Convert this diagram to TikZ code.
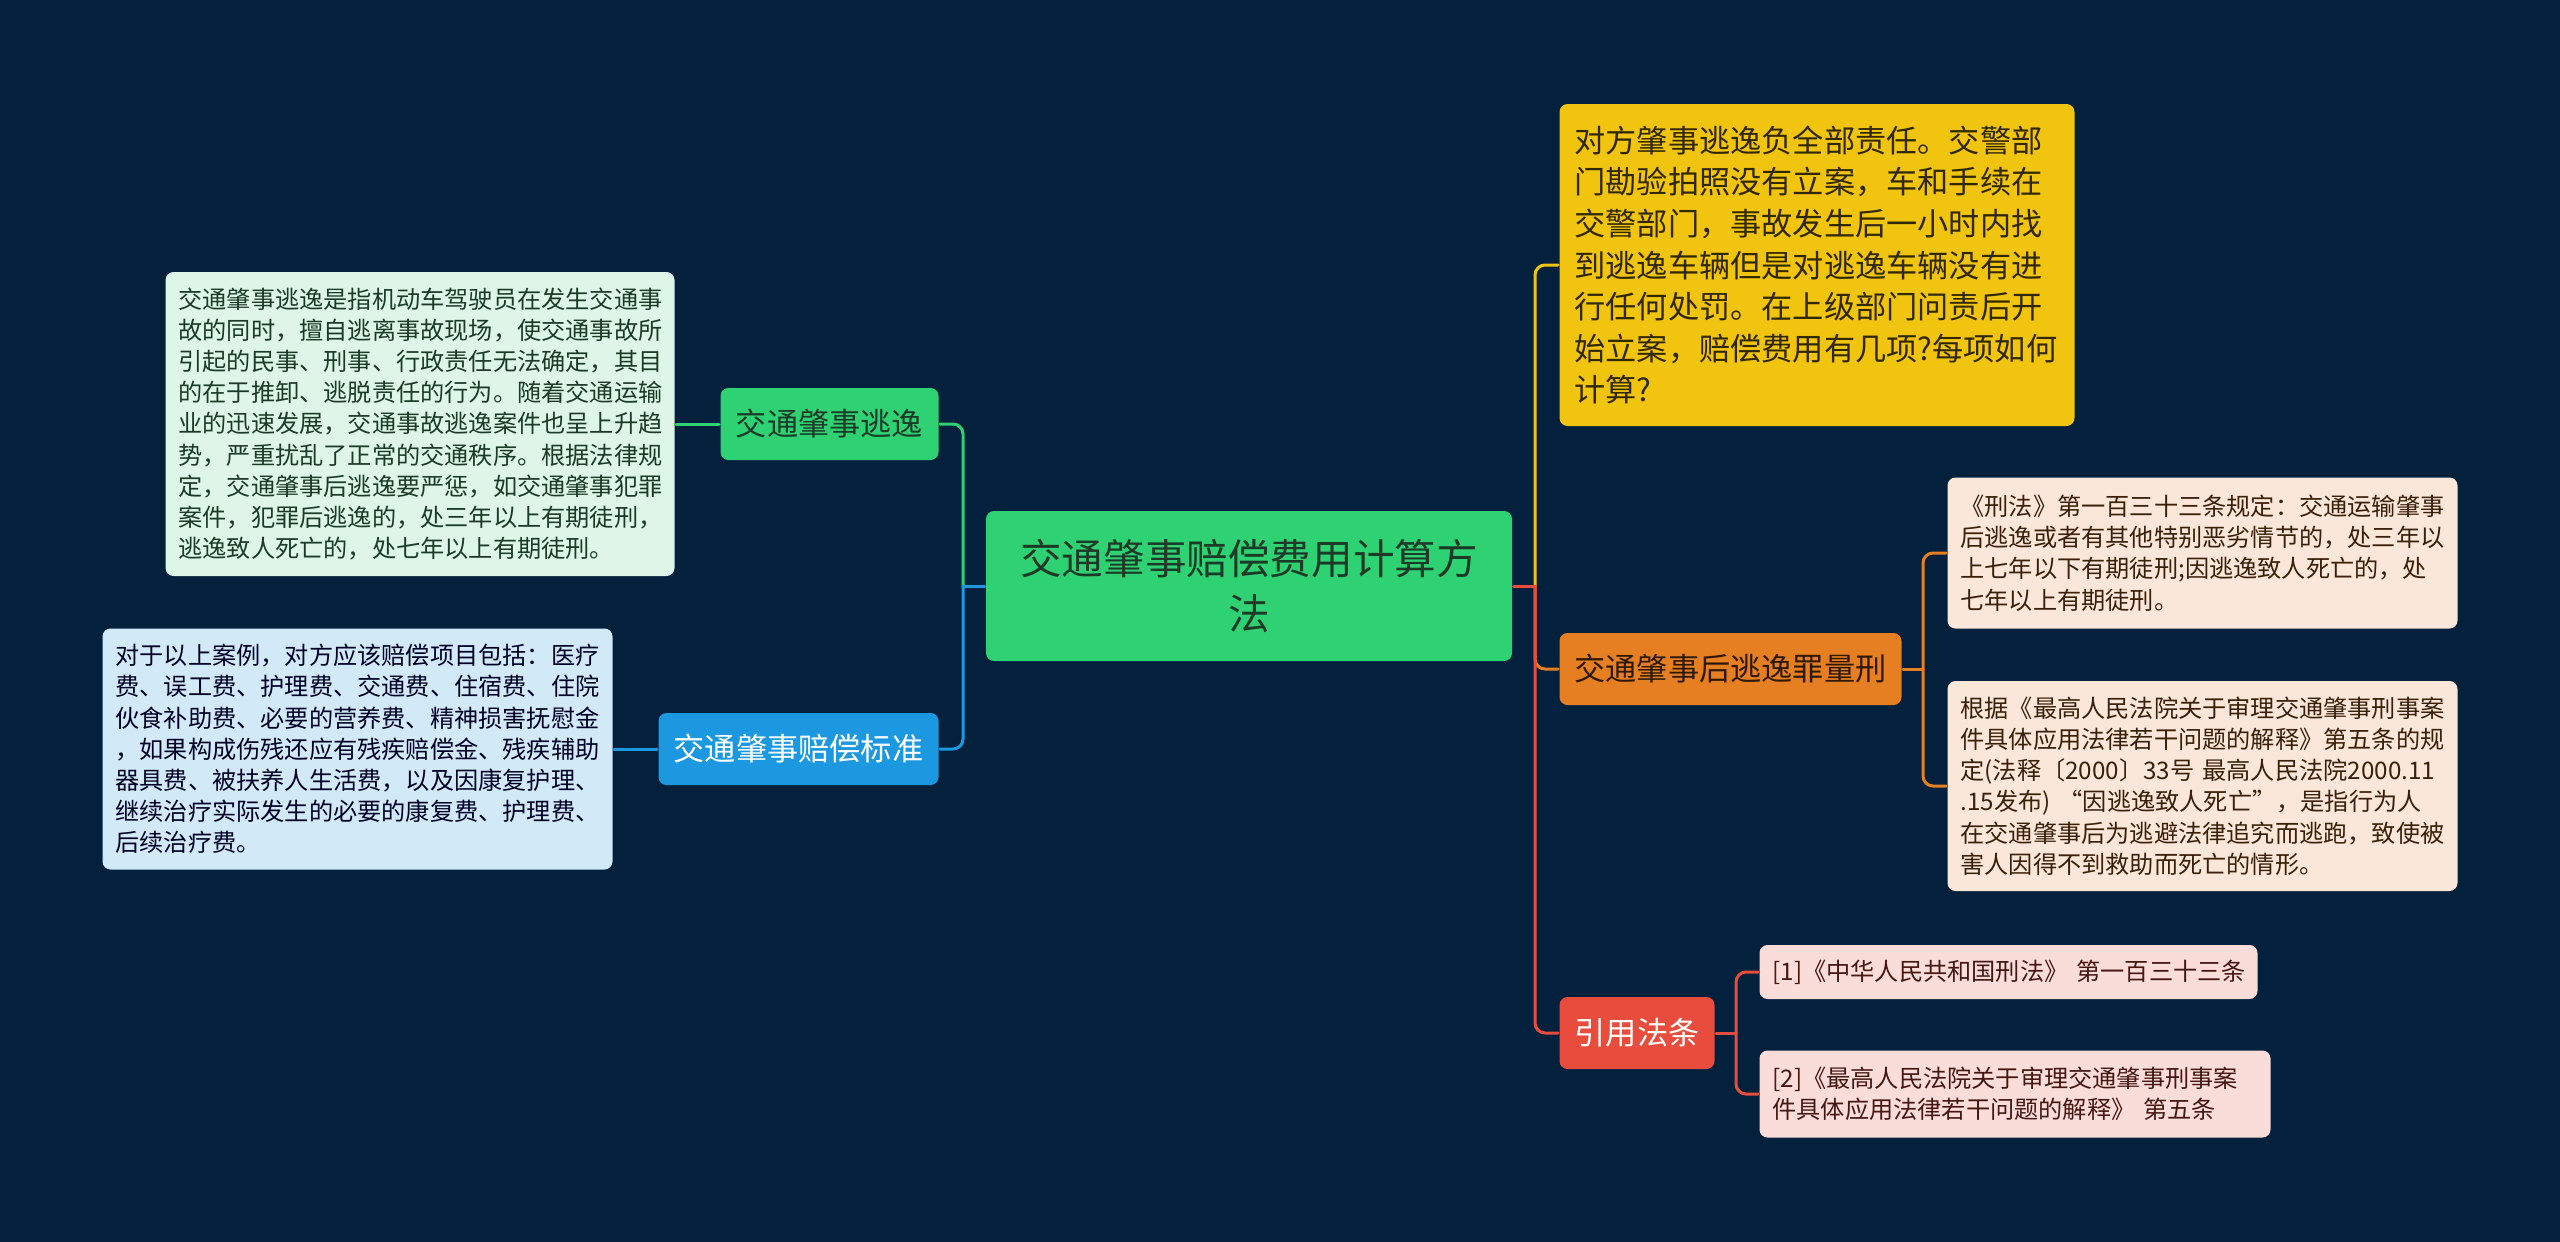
\documentclass[tikz,border=0pt]{standalone}
\usepackage{fontspec}
\setmainfont{Noto Sans CJK SC}
\definecolor{bgnavy}{HTML}{03203C}
\definecolor{rootgreen}{HTML}{2FD273}
\definecolor{mint}{HTML}{DDF6E7}
\definecolor{skyblue}{HTML}{1B98E0}
\definecolor{paleblue}{HTML}{D2EAF7}
\definecolor{sun}{HTML}{F1C40F}
\definecolor{carrot}{HTML}{E67E22}
\definecolor{peach}{HTML}{FAE7D9}
\definecolor{tomato}{HTML}{E74C3C}
\definecolor{blush}{HTML}{FADCD9}
\definecolor{inkgreen}{HTML}{1C3A28}
\begin{document}
\begin{tikzpicture}[x=.5pt,y=-.5pt,line width=1.5pt,line cap=round,line join=round,
  card/.style={rounded corners=4pt,inner ysep=0pt},
  branch/.style={card,align=center,inner xsep=0pt,minimum height=36pt,
    font=\fontsize{15.6}{20}\selectfont},
  leaf/.style={card,align=left,inner xsep=6.5pt,
    font=\fontsize{12.1}{15.6}\selectfont},
  link/.style={rounded corners=5pt}]
  \fill[bgnavy] (0,0) rectangle (2560,1242);
  % centre
  \node[card,fill=rootgreen,text=inkgreen,align=center,minimum width=263pt,
    minimum height=75pt,font=\fontsize{20.8}{27.8}\selectfont] (root) at (1249,586)
    {交通肇事赔偿费用计算方\\法};
  % left side
  \node[branch,fill=rootgreen,text=inkgreen,minimum width=109pt,anchor=east]
    (escape) at (940,424) {交通肇事逃逸};
  \node[branch,fill=skyblue,text=white,minimum width=140pt,anchor=east]
    (standard) at (940,749) {交通肇事赔偿标准};
  \node[leaf,fill=mint,text=inkgreen,text width=241.5pt,minimum height=152pt,
    anchor=east] (escdef) at (676,424)
    {交通肇事逃逸是指机动车驾驶员在发生交通事\\
     故的同时，擅自逃离事故现场，使交通事故所\\
     引起的民事、刑事、行政责任无法确定，其目\\
     的在于推卸、逃脱责任的行为。随着交通运输\\
     业的迅速发展，交通事故逃逸案件也呈上升趋\\
     势，严重扰乱了正常的交通秩序。根据法律规\\
     定，交通肇事后逃逸要严惩，如交通肇事犯罪\\
     案件，犯罪后逃逸的，处三年以上有期徒刑，\\
     逃逸致人死亡的，处七年以上有期徒刑。};
  \node[leaf,fill=paleblue,text=black!85!blue,text width=242pt,minimum height=120.5pt,
    anchor=east] (items) at (614,749)
    {对于以上案例，对方应该赔偿项目包括：医疗\\
     费、误工费、护理费、交通费、住宿费、住院\\
     伙食补助费、必要的营养费、精神损害抚慰金\\
     ，如果构成伤残还应有残疾赔偿金、残疾辅助\\
     器具费、被扶养人生活费，以及因康复护理、\\
     继续治疗实际发生的必要的康复费、护理费、\\
     后续治疗费。};
  % right side
  \node[card,fill=sun,text=black!80!sun,align=left,inner xsep=7.5pt,text width=242.5pt,
    minimum height=161pt,anchor=west,font=\fontsize{15.6}{20.8}\selectfont]
    (question) at (1558,265)
    {对方肇事逃逸负全部责任。交警部\\
     门勘验拍照没有立案，车和手续在\\
     交警部门，事故发生后一小时内找\\
     到逃逸车辆但是对逃逸车辆没有进\\
     行任何处罚。在上级部门问责后开\\
     始立案，赔偿费用有几项?每项如何\\
     计算?};
  \node[branch,fill=carrot,text=black!80!carrot,minimum width=171pt,anchor=west]
    (crime) at (1558,669) {交通肇事后逃逸罪量刑};
  \node[branch,fill=tomato,text=white,minimum width=77.5pt,anchor=west]
    (cite) at (1558,1033) {引用法条};
  \node[leaf,fill=peach,text=black!75!carrot,text width=242pt,minimum height=75.5pt,
    anchor=west] (xingfa) at (1946,553)
    {《刑法》第一百三十三条规定：交通运输肇事\\
     后逃逸或者有其他特别恶劣情节的，处三年以\\
     上七年以下有期徒刑;因逃逸致人死亡的，处\\
     七年以上有期徒刑。};
  \node[leaf,fill=peach,text=black!75!carrot,text width=242pt,minimum height=105pt,
    anchor=west] (jieshi) at (1946,786)
    {根据《最高人民法院关于审理交通肇事刑事案\\
     件具体应用法律若干问题的解释》第五条的规\\
     定(法释〔2000〕33号 最高人民法院2000.11\\
     .15发布) “因逃逸致人死亡”，是指行为人\\
     在交通肇事后为逃避法律追究而逃跑，致使被\\
     害人因得不到救助而死亡的情形。};
  \node[leaf,fill=blush,text=black!70!tomato,text width=236pt,minimum height=27pt,
    anchor=west] (refone) at (1758,972)
    {\mbox{[1]《中华人民共和国刑法》 第一百三十三条}};
  \node[leaf,fill=blush,text=black!70!tomato,text width=242.5pt,minimum height=43.5pt,
    anchor=west] (reftwo) at (1758,1094)
    {[2]《最高人民法院关于审理交通肇事刑事案\\
     件具体应用法律若干问题的解释》 第五条};
  % connectors
  \coordinate (ltrunk) at (963,586);
  \coordinate (rtrunk) at (1535,586);
  \coordinate (otrunk) at (1923,669);
  \coordinate (ctrunk) at (1736,1033);
  \draw[skyblue] (root.west) -- (ltrunk);
  \draw[rootgreen,link] (ltrunk) |- (escape.east);
  \draw[skyblue,link] (ltrunk) |- (standard.east);
  \draw[rootgreen] (escape.west) -- (escdef.east);
  \draw[skyblue] (standard.west) -- (items.east);
  \draw[sun,link] (rtrunk) |- (question.west);
  \draw[carrot,link] (rtrunk) |- (crime.west);
  \draw[tomato,link] (rtrunk) |- (cite.west);
  \draw[tomato] (root.east) -- (rtrunk);
  \draw[carrot] (crime.east) -- (otrunk);
  \foreach \kid in {xingfa,jieshi}
    \draw[carrot,link] (otrunk) |- (\kid.west);
  \draw[tomato] (cite.east) -- (ctrunk);
  \foreach \kid in {refone,reftwo}
    \draw[tomato,link] (ctrunk) |- (\kid.west);
\end{tikzpicture}
\end{document}
